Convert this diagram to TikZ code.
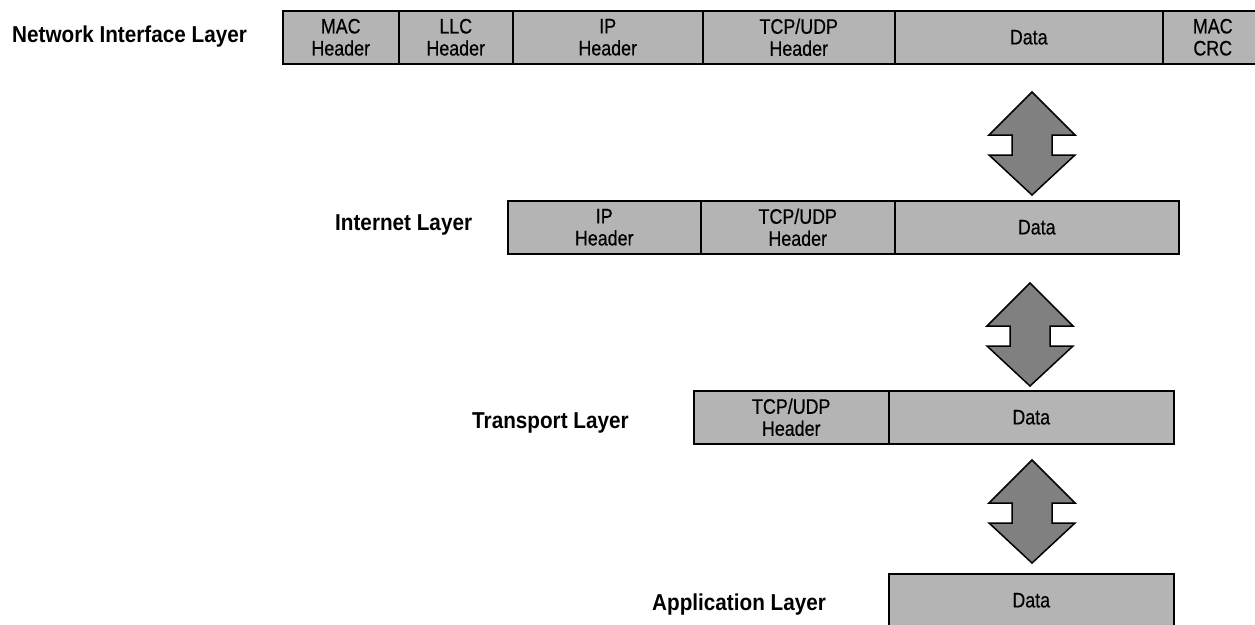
\documentclass[tikz,border=0pt]{standalone}
\usepackage{fontspec}
\setmainfont{Liberation Sans}
\newfontfamily\cellfont{Liberation Sans}[FakeStretch=0.85, FakeBold=0.5]
\newfontfamily\labelfont{Liberation Sans Bold}[FakeStretch=0.9]
\definecolor{cellgray}{RGB}{180,180,180}
\definecolor{arrowgray}{RGB}{128,128,128}
\newcommand{\DArrow}[3]{% name, x, top y
  \draw[dblarr, shift={(#2,#3)}] (0,0) coordinate (#1) -- (43,43) -- (20,43) -- (20,63) -- (43,63) -- (0,103)
    -- (-43,63) -- (-20,63) -- (-20,43) -- (-43,43) -- cycle;}
\begin{document}
\begin{tikzpicture}[x=1pt,y=-1pt,
  cell/.style={draw=black, fill=cellgray, line width=1.5pt, inner sep=0pt,
    minimum height=53pt, anchor=north west, align=center,
    font=\cellfont\fontsize{21}{22}\selectfont},
  layerlabel/.style={anchor=west, inner sep=0pt, font=\labelfont\fontsize{23}{26}\selectfont},
  dblarr/.style={draw=black, fill=arrowgray, line width=1.5pt, line join=miter}]
\fill[white] (0,0) rectangle (1255,624);
\useasboundingbox (0,0) rectangle (1255,624);

% Network Interface Layer
\node[layerlabel] (nil) at (12,37) {Network Interface Layer};
\node[cell, minimum width=116pt] (n1) at (282,10) {MAC\\Header};
\node[cell, minimum width=114pt] (n2) at (398,10) {LLC\\Header};
\node[cell, minimum width=190pt] (n3) at (512,10) {IP\\Header};
\node[cell, minimum width=192pt] (n4) at (702,10) {TCP/UDP\\Header};
\node[cell, minimum width=268pt] (n5) at (894,10) {Data};
\node[cell, minimum width=100pt] (n6) at (1162,10) {MAC\\CRC};

% Internet Layer
\node[layerlabel] (il) at (335,225) {Internet Layer};
\node[cell, minimum width=193pt] (i1) at (507,200) {IP\\Header};
\node[cell, minimum width=194pt] (i2) at (700,200) {TCP/UDP\\Header};
\node[cell, minimum width=284pt] (i3) at (894,200) {Data};

% Transport Layer
\node[layerlabel] (tl) at (472,423) {Transport Layer};
\node[cell, minimum width=195pt] (t1) at (693,390) {TCP/UDP\\Header};
\node[cell, minimum width=285pt] (t2) at (888,390) {Data};

% Application Layer
\node[layerlabel] (al) at (652,605) {Application Layer};
\node[cell, minimum width=285pt, minimum height=53pt] (a1) at (888,573) {Data};

% double arrows
\DArrow{arr1}{1032}{92}
\DArrow{arr2}{1030}{283}
\DArrow{arr3}{1032}{460}
\end{tikzpicture}
\end{document}
